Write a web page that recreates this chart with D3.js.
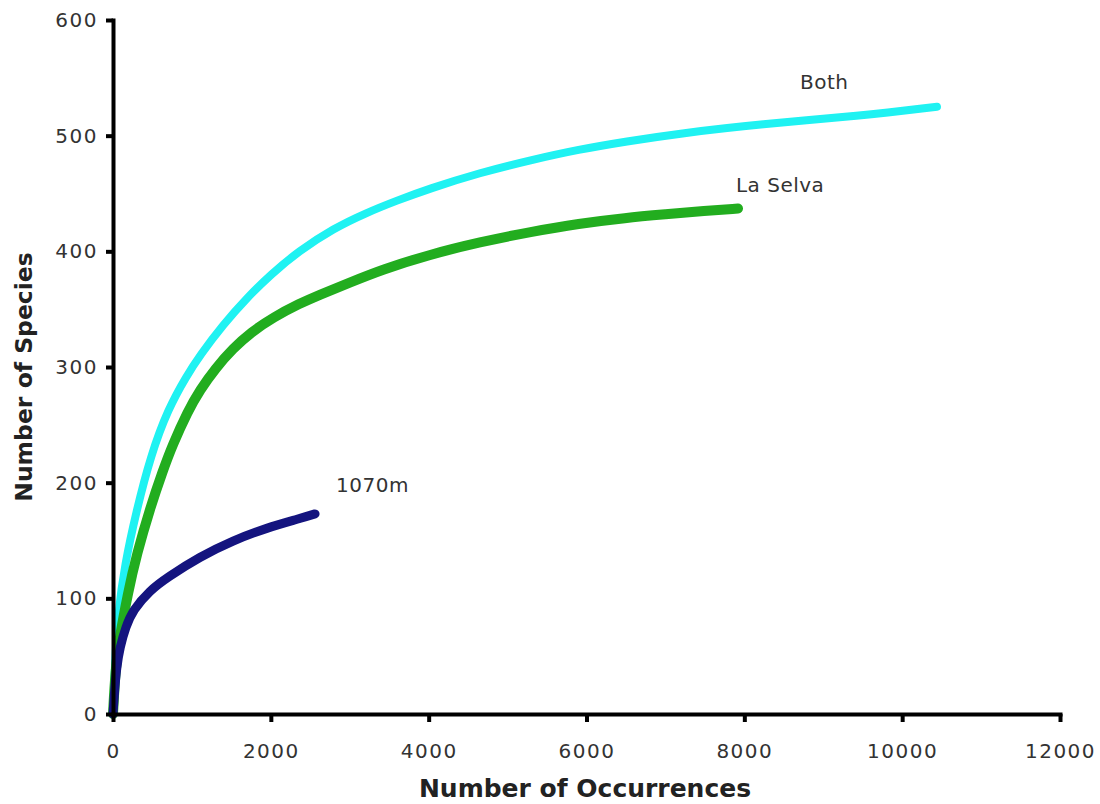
<!DOCTYPE html>
<html><head><meta charset="utf-8">
<script src="https://cdn.jsdelivr.net/npm/d3@7"></script>
<style>
body{margin:0;background:#fff;}
svg{display:block;}
.axis text{font-family:"DejaVu Sans",sans-serif;font-size:20px;fill:#333;letter-spacing:1.5px;}
.axis path,.axis line{stroke:#000;stroke-width:4px;}
.title{font-family:"DejaVu Sans",sans-serif;font-weight:bold;fill:#222;}
.lab{font-family:"DejaVu Sans",sans-serif;font-size:20px;fill:#333;letter-spacing:0.5px;}
</style></head>
<body><svg id="c" width="1100" height="804"></svg>
<script>
// Data
const bothOcc = [0, 25, 63, 152, 291, 480, 700, 930, 1100, 1400, 1700, 2000, 2350, 2800, 3200, 3600, 4000, 4650, 5300, 5900, 6500, 7185, 8200, 9465, 10441];
const bothSp  = [0, 45, 87, 130, 174, 224, 264, 292, 310, 337, 360, 380, 400, 420, 433, 444, 454, 468, 479, 488, 495, 502, 510, 517, 525];

const selvaOcc = [0, 30, 80, 190, 300, 470, 630, 750, 950, 1100, 1300, 1520, 1750, 2030, 2370, 2600, 3000, 3400, 4000, 4650, 5300, 5900, 6500, 7000, 7500, 7920];
const selvaSp  = [0, 38, 65, 105, 138, 178, 210, 232, 262, 280, 299, 316, 330, 343, 355, 362, 373, 384, 397, 408, 417, 424, 429, 432, 435, 437];

const m1070Occ = [0, 20, 45, 89, 160, 253, 469, 684, 1100, 1520, 1950, 2370, 2560];
const m1070Sp  = [0, 20, 40, 58, 75, 90, 107, 118, 136, 150, 161, 169, 173];

const seriesNames = ["Both", "La Selva", "1070m"];
const seriesColors = ["#1ff2f2", "#22ad1f", "#14147f"];
const labelOcc = [8705, 7894, 2826];
const labelSp  = [540, 451, 192];

const xTicks = [0, 2000, 4000, 6000, 8000, 10000, 12000];
const yTicks = [0, 100, 200, 300, 400, 500, 600];
const xTitle = "Number of Occurrences";
const yTitle = "Number of Species";

const svg = d3.select("#c");
const x = d3.scaleLinear().domain([0, 12000]).range([113, 1060]);
const y = d3.scaleLinear().domain([0, 600]).range([714, 20]);

const series = [
  {name: seriesNames[0], color: seriesColors[0], pts: d3.zip(bothOcc, bothSp), w: 8},
  {name: seriesNames[1], color: seriesColors[1], pts: d3.zip(selvaOcc, selvaSp), w: 10},
  {name: seriesNames[2], color: seriesColors[2], pts: d3.zip(m1070Occ, m1070Sp), w: 9}
];

const line = d3.line().x(d => x(d[0])).y(d => y(d[1])).curve(d3.curveBasis);

series.forEach(s => {
  svg.append("path").attr("d", line(s.pts)).attr("fill", "none")
    .attr("stroke", s.color).attr("stroke-width", s.w)
    .attr("stroke-linecap", "round").attr("stroke-linejoin", "round");
});

series.forEach((s, i) => {
  svg.append("text").attr("class", "lab").attr("x", x(labelOcc[i])).attr("y", y(labelSp[i])).text(s.name);
});

const gx = svg.append("g").attr("class", "axis").attr("transform", "translate(0,714)")
  .call(d3.axisBottom(x).tickValues(xTicks).tickFormat(d3.format("d")).tickSize(8).tickSizeOuter(0).tickPadding(22));
const gy = svg.append("g").attr("class", "axis").attr("transform", "translate(113,0)")
  .call(d3.axisLeft(y).tickValues(yTicks).tickFormat(d3.format("d")).tickSize(7).tickSizeOuter(0).tickPadding(8));
svg.selectAll(".axis path.domain").attr("stroke-linecap", "square");

svg.append("text").attr("class", "title").style("font-size", "25px").attr("x", 585).attr("y", 797).attr("text-anchor", "middle").text(xTitle);
svg.append("text").attr("class", "title").style("font-size", "23.5px").attr("transform", "translate(32,377) rotate(-90)").attr("text-anchor", "middle").text(yTitle);
</script></body></html>
